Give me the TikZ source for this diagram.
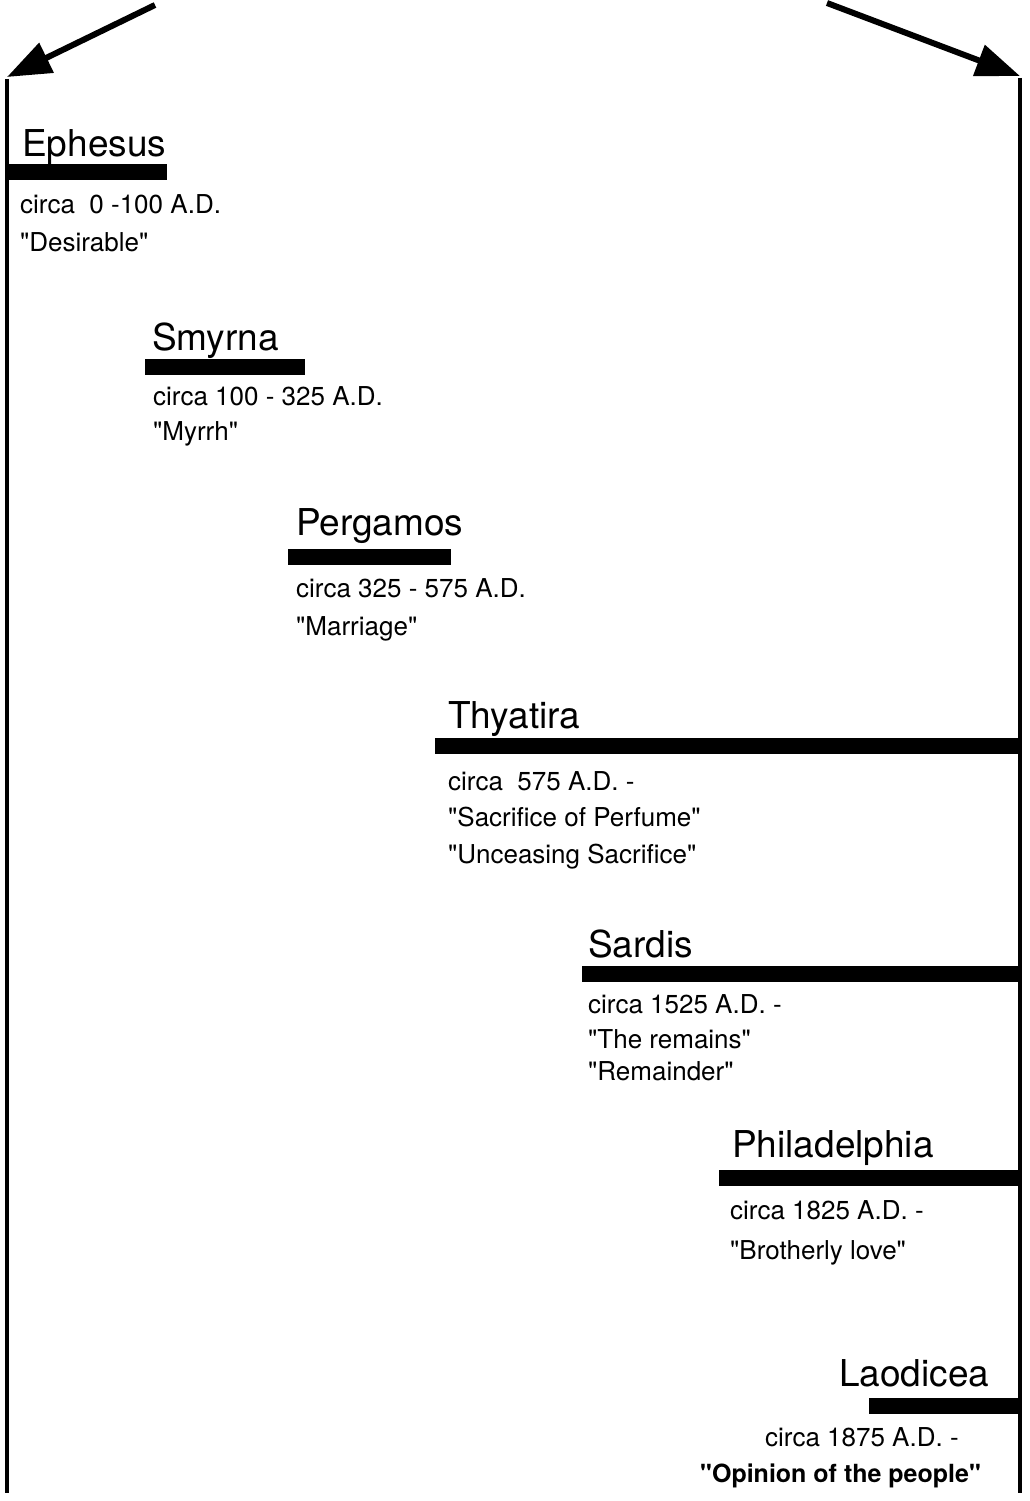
\documentclass[tikz,border=0pt]{standalone}
\usepackage{fontspec}
\setmainfont[Ligatures=TeXOff]{TeX Gyre Heros}
\usetikzlibrary{arrows.meta}
\tikzset{
  head/.style={anchor=base west, inner sep=0pt, font=\fontsize{37}{40}\selectfont},
  body/.style={anchor=base west, inner sep=0pt, font=\fontsize{26}{30}\selectfont},
  barline/.style={line width=16pt},
  axisline/.style={line width=4.5pt},
  bigarrow/.style={line width=6pt, -{Triangle[length=44pt,width=32pt]}}
}
\begin{document}
\begin{tikzpicture}[x=1pt,y=-1pt]
\useasboundingbox (0,0) rectangle (1029,1501);
% axes and arrows
\coordinate (ls) at (155,5);
\coordinate (lt) at (7,77);
\coordinate (lb) at (7,1493);
\coordinate (rs) at (827,3);
\coordinate (rt) at (1020,76);
\coordinate (rb) at (1020,1493);
\draw[bigarrow] (ls) -- (lt);
\draw[bigarrow] (rs) -- (rt);
\draw[axisline] ([yshift=-2pt]lt) -- (lb);
\draw[axisline] ([yshift=-2pt]rt) -- (rb);
% Ephesus
\node[head] (eph) at (22,157) {Ephesus};
\draw[barline] (lt |- 0,172) coordinate (ephA) -- (167,172) coordinate (ephB);
\node[body] (eph1) at (20,213) {circa\ \ 0 -100 A.D.};
\node[body] (eph2) at (20,251) {"Desirable"};
% Smyrna
\node[head] (smy) at (152,350) {Smyrna};
\draw[barline] (145,367) coordinate (smyA) -- (305,367) coordinate (smyB);
\node[body] (smy1) at (153,405) {circa 100 - 325 A.D.};
\node[body] (smy2) at (153,440) {"Myrrh"};
% Pergamos
\node[head] (per) at (296,535) {Pergamos};
\draw[barline] (288,557) coordinate (perA) -- (451,557) coordinate (perB);
\node[body] (per1) at (296,597) {circa 325 - 575 A.D.};
\node[body] (per2) at (296,635) {"Marriage"};
% Thyatira
\node[head] (thy) at (448,728) {Thyatira};
\draw[barline] (435,746) coordinate (thyA) -- (rt |- 0,746) coordinate (thyB);
\node[body] (thy1) at (448,790) {circa\ \ 575 A.D. -};
\node[body] (thy2) at (448,826) {"Sacrifice of Perfume"};
\node[body] (thy3) at (448,863) {"Unceasing Sacrifice"};
% Sardis
\node[head] (sar) at (588,957) {Sardis};
\draw[barline] (582,974) coordinate (sarA) -- (rt |- 0,974) coordinate (sarB);
\node[body] (sar1) at (588,1013) {circa 1525 A.D. -};
\node[body] (sar2) at (588,1048) {"The remains"};
\node[body] (sar3) at (588,1080) {"Remainder"};
% Philadelphia
\node[head] (phi) at (732,1157) {Philadelphia};
\draw[barline] (719,1178) coordinate (phiA) -- (rt |- 0,1178) coordinate (phiB);
\node[body] (phi1) at (730,1219) {circa 1825 A.D. -};
\node[body] (phi2) at (730,1259) {"Brotherly love"};
% Laodicea
\node[head] (lao) at (839,1386) {Laodicea};
\draw[barline] (869,1406) coordinate (laoA) -- (rt |- 0,1406) coordinate (laoB);
\node[body] (lao1) at (765,1446) {circa 1875 A.D. -};
\node[body, font=\fontsize{25}{30}\selectfont\bfseries] (lao2) at (700,1482) {"Opinion of the people"};
\end{tikzpicture}
\end{document}
